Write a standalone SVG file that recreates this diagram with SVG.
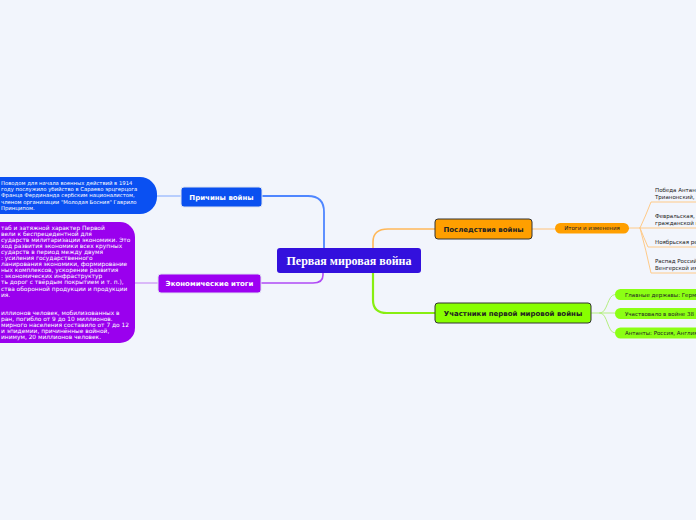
<svg xmlns="http://www.w3.org/2000/svg" width="696" height="520" viewBox="0 0 696 520">
<style>
.bg{fill:#f2f5fc}
.lbl{font-family:"DejaVu Sans",Verdana,sans-serif;font-weight:bold;font-size:7px}
.sm{font-family:"DejaVu Sans",Verdana,sans-serif;font-size:5.5px}
.pt{font-size:5.9px}
.bt{font-size:5.3px}
.w{fill:#ffffff}
.d{fill:#222222}
.c{fill:none;stroke-linecap:round;stroke-linejoin:round}
</style>
<rect class="bg" x="0" y="0" width="696" height="520"/>
<g id="connectors">
<path class="c" d="M262,196 H308 Q324,196 324,212 V248" stroke="#4f86ff" stroke-width="1.8"/>
<path class="c" d="M157,196 H181" stroke="#7fa6ff" stroke-width="1"/>
<path class="c" d="M323,273 V275 Q323,283 313,283 H261" stroke="#b04af5" stroke-width="1.6"/>
<path class="c" d="M135,283 H158" stroke="#c27cf5" stroke-width="1"/>
<path class="c" d="M373,248 V242 Q373,229 388,229 H435" stroke="#ffb859" stroke-width="1.6"/>
<path class="c" d="M373,273 V300 Q373,313 387,313 H435" stroke="#88ee11" stroke-width="2.2"/>
<path class="c" d="M532,229 H555" stroke="#ffc27a" stroke-width="1"/>
<path class="c" d="M629,228 H640 Q646,215 651,202 H696" stroke="#ffca88" stroke-width="1"/>
<path class="c" d="M640,228 H696" stroke="#ffca88" stroke-width="1"/>
<path class="c" d="M640,228 Q644,238 648,247 H696" stroke="#ffca88" stroke-width="1"/>
<path class="c" d="M640,228 Q646,250 651,273 H696" stroke="#ffca88" stroke-width="1"/>
<path class="c" d="M591,313 H600" stroke="#b4ef80" stroke-width="1"/>
<path class="c" d="M600,313 C608,313 607,294.5 615,294.5" stroke="#b4ef80" stroke-width="1"/>
<path class="c" d="M600,313 H615" stroke="#b4ef80" stroke-width="1"/>
<path class="c" d="M600,313 C608,313 607,333 615,333" stroke="#b4ef80" stroke-width="1"/>
</g>
<g id="central">
<rect x="277" y="248" width="144" height="25" rx="3" fill="#3310dd"/>
<text x="349" y="264.5" text-anchor="middle" font-family="'Liberation Serif','Times New Roman',serif" font-weight="bold" font-size="12" fill="#ffffff">Первая мировая война</text>
</g>
<g id="prichiny">
<rect x="181" y="187" width="81" height="20" rx="3" fill="#0a50f0" stroke="#dde3f0" stroke-width="1"/>
<text class="lbl w" x="221.5" y="199.5" text-anchor="middle">Причины войны</text>
</g>
<g id="prichiny-text">
<rect x="-20" y="177" width="177" height="37" rx="17" fill="#0a50f2"/>
<text class="sm bt w" x="1" y="185">Поводом для начала военных действий в 1914</text>
<text class="sm bt w" x="1" y="191.2">году послужило убийство в Сараево эрцгерцога</text>
<text class="sm bt w" x="1" y="197.4">Франца Фердинанда сербским националистом,</text>
<text class="sm bt w" x="1" y="203.6">членом организации "Молодая Босния" Гаврило</text>
<text class="sm bt w" x="1" y="209.8">Принципом.</text>
</g>
<g id="ekonomika">
<rect x="158" y="274" width="103" height="19" rx="3" fill="#9d00f2" stroke="#dde0f0" stroke-width="1"/>
<text class="lbl w" x="209.5" y="286" text-anchor="middle">Экономические итоги</text>
</g>
<g id="ekonomika-text">
<rect x="-20" y="222" width="155" height="121" rx="15" fill="#9a00ee"/>
<text class="sm pt w" x="1" y="229.5">таб и затяжной характер Первой</text>
<text class="sm pt w" x="1" y="235.6">вели к беспрецедентной для</text>
<text class="sm pt w" x="1" y="241.7">сударств милитаризации экономики. Это</text>
<text class="sm pt w" x="1" y="247.8">ход развития экономики всех крупных</text>
<text class="sm pt w" x="1" y="253.9">сударств в период между двумя</text>
<text class="sm pt w" x="1" y="260">: усиления государственного</text>
<text class="sm pt w" x="1" y="266.1">ланирования экономики, формирование</text>
<text class="sm pt w" x="1" y="272.2">ных комплексов, ускорение развития</text>
<text class="sm pt w" x="1" y="278.3">: экономических инфраструктур</text>
<text class="sm pt w" x="1" y="284.4">ть дорог с твёрдым покрытием и т. п.),</text>
<text class="sm pt w" x="1" y="290.5">ства оборонной продукции и продукции</text>
<text class="sm pt w" x="1" y="296.6">ия.</text>
<text class="sm pt w" x="1" y="314.6">иллионов человек, мобилизованных в</text>
<text class="sm pt w" x="1" y="320.7">ран, погибло от 9 до 10 миллионов.</text>
<text class="sm pt w" x="1" y="326.8">мирного населения составило от 7 до 12</text>
<text class="sm pt w" x="1" y="332.9">и эпидемии, причинённые войной,</text>
<text class="sm pt w" x="1" y="339">инимум, 20 миллионов человек.</text>
</g>
<g id="posledstviya">
<rect x="435" y="219" width="97" height="20" rx="3" fill="#ff9f00" stroke="#333333" stroke-width="1"/>
<text class="lbl d" x="483.5" y="231.5" text-anchor="middle">Последствия войны</text>
</g>
<g id="itogi">
<rect x="555" y="223" width="74" height="10.5" rx="5.25" fill="#ff9f00"/>
<text class="sm d" x="592" y="230.2" text-anchor="middle">Итоги и изменения</text>
</g>
<g id="itog-1">
<text class="sm d" x="655" y="192">Победа Антан</text>
<text class="sm d" x="655" y="198.5">Трианонский,</text>
</g>
<g id="itog-2">
<text class="sm d" x="655" y="218">Февральская,</text>
<text class="sm d" x="655" y="224.5">гражданской в</text>
</g>
<g id="itog-3">
<text class="sm d" x="655" y="243.5">Ноябрьская ре</text>
</g>
<g id="itog-4">
<text class="sm d" x="655" y="263">Распад Россий</text>
<text class="sm d" x="655" y="269.5">Венгерской им</text>
</g>
<g id="uchastniki">
<rect x="435" y="303" width="156" height="20" rx="3" fill="#88ff00" stroke="#333333" stroke-width="1"/>
<text class="lbl d" x="513" y="315.5" text-anchor="middle">Участники первой мировой войны</text>
</g>
<g id="uch-1">
<rect x="615" y="289" width="100" height="11" rx="5.5" fill="#8cff14"/>
<text class="sm d" x="625" y="296.5">Главные державы: Германия</text>
</g>
<g id="uch-2">
<rect x="615" y="308" width="100" height="11" rx="5.5" fill="#8cff14"/>
<text class="sm d" x="625" y="315.5">Участвовало в войне 38 г</text>
</g>
<g id="uch-3">
<rect x="615" y="327.5" width="100" height="11" rx="5.5" fill="#8cff14"/>
<text class="sm d" x="625" y="335">Антанты: Россия, Англия</text>
</g>
</svg>
